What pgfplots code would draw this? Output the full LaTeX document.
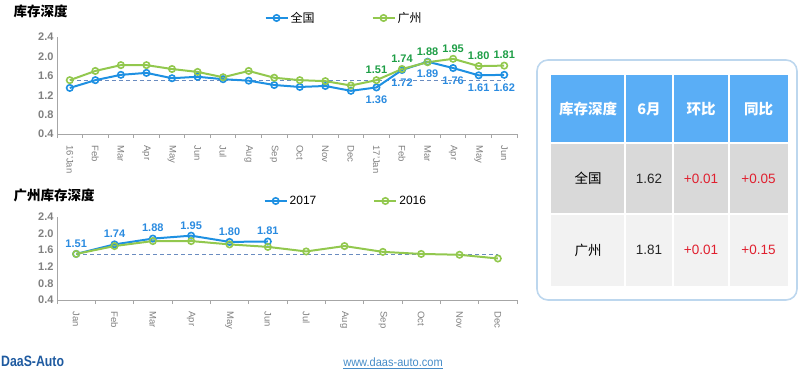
\documentclass[border=0pt]{standalone}
\usepackage{pgfplots}
\pgfplotsset{compat=1.18}
\usetikzlibrary{calc}
\usepackage{fontspec}
\setmainfont{Liberation Sans}
\newfontfamily\cjk{Noto Sans CJK SC}
\definecolor{cblue}{RGB}{30,144,226}
\definecolor{cgreen}{RGB}{146,200,78}
\definecolor{lblue}{RGB}{42,139,224}
\definecolor{lgreen}{RGB}{30,158,70}
\definecolor{dashc}{RGB}{106,140,192}
\definecolor{axgray}{RGB}{166,166,166}
\definecolor{tickgray}{RGB}{128,128,128}
\definecolor{hdrblue}{RGB}{90,174,246}
\definecolor{row1}{RGB}{217,217,217}
\definecolor{row2}{RGB}{242,242,242}
\definecolor{redv}{RGB}{224,32,47}
\definecolor{boxblue}{RGB}{189,215,238}
\definecolor{logoblue}{RGB}{30,90,160}
\definecolor{urlblue}{RGB}{70,140,200}

\pgfplotsset{
  mychart/.style={
    scale only axis,
    ymin=0.4, ymax=2.4,
    ytick={0.4,0.8,1.2,1.6,2.0,2.4},
    /pgf/number format/fixed, /pgf/number format/fixed zerofill, /pgf/number format/precision=1,
    /pgf/number format/assume math mode=true,
    yticklabel style={font=\bfseries\fontsize{11}{12}\selectfont, text=tickgray},
    xticklabel style={rotate=-90, anchor=west, font=\fontsize{9.5}{10}\selectfont, text=tickgray, xshift=8pt},
    major tick length=0pt, minor tick length=4pt, tick align=outside,
    axis lines*=left,
    axis line style={axgray, line width=0.8pt},
    minor tick style={axgray, line width=0.8pt},
    clip=false,
    legend columns=2,
    legend style={draw=none, fill=none, font=\fontsize{12}{14}\selectfont, cells={anchor=west},
      /tikz/every even column/.append style={column sep=55pt}},
    legend image code/.code={\draw[mark repeat=2,mark phase=2,##1] plot coordinates {(0pt,0pt) (11pt,0pt) (22pt,0pt)};},
  },
  sblue/.style={cblue, line width=2pt, mark=o, mark size=3.2pt, mark options={fill=white, line width=1.6pt}},
  sgreen/.style={cgreen, line width=2pt, mark=o, mark size=3.2pt, mark options={fill=white, line width=1.6pt}},
  dashl/.style={dashc, line width=1.5pt, dash pattern=on 4pt off 3pt, forget plot},
  labup/.style={draw=none, mark=none, forget plot, nodes near coords, point meta=explicit symbolic,
     nodes near coords style={font=\bfseries\fontsize{11}{12}\selectfont, text=#1, anchor=south, yshift=3pt}},
  labdown/.style={draw=none, mark=none, forget plot, nodes near coords, point meta=explicit symbolic,
     nodes near coords style={font=\bfseries\fontsize{11}{12}\selectfont, text=#1, anchor=north, yshift=-5pt}},
}

\begin{document}
\begin{tikzpicture}[x=1pt,y=1pt]
\useasboundingbox (0,0) rectangle (800,376);

% titles
\node[anchor=west, font=\cjk\bfseries\fontsize{13.5}{15}\selectfont] at (10,365) {库存深度};
\node[anchor=west, font=\cjk\bfseries\fontsize{13.5}{15}\selectfont] at (10,181) {广州库存深度};

% top chart
\begin{axis}[mychart,
  at={(57pt,242pt)}, anchor=south west, width=460pt, height=97pt,
  xmin=-0.5, xmax=17.5,
  xtick={0,...,17},
  xticklabels={16'Jan,Feb,Mar,Apr,May,Jun,Jul,Aug,Sep,Oct,Nov,Dec,17'Jan,Feb,Mar,Apr,May,Jun},
  minor xtick={-0.5,0.5,...,17.5},
  legend style={at={(axis description cs:0.624,1.196)}, anchor=center},
]
\addplot[dashl] coordinates {(0,1.5) (17,1.5)};
\addplot[sblue] coordinates {(0,1.35) (1,1.51) (2,1.62) (3,1.66) (4,1.55) (5,1.58) (6,1.53) (7,1.50) (8,1.41) (9,1.37) (10,1.39) (11,1.29) (12,1.36) (13,1.72) (14,1.89) (15,1.76) (16,1.61) (17,1.62)};
\addlegendentry{\cjk 全国}
\addplot[sgreen] coordinates {(0,1.51) (1,1.70) (2,1.82) (3,1.82) (4,1.74) (5,1.68) (6,1.57) (7,1.70) (8,1.56) (9,1.51) (10,1.49) (11,1.40) (12,1.51) (13,1.74) (14,1.88) (15,1.95) (16,1.80) (17,1.81)};
\addlegendentry{\cjk 广州}
\addplot[labup=lgreen] coordinates {(12,1.51)[1.51] (13,1.74)[1.74] (14,1.88)[1.88] (15,1.95)[1.95] (16,1.80)[1.80] (17,1.81)[1.81]};
\addplot[labdown=lblue] coordinates {(12,1.36)[1.36] (13,1.72)[1.72] (14,1.89)[1.89] (15,1.76)[1.76] (16,1.61)[1.61] (17,1.62)[1.62]};
\end{axis}

% bottom chart
\begin{axis}[mychart,
  at={(57pt,76pt)}, anchor=south west, width=460pt, height=83pt,
  xmin=-0.5, xmax=11.5,
  xtick={0,...,11},
  xticklabels={Jan,Feb,Mar,Apr,May,Jun,Jul,Aug,Sep,Oct,Nov,Dec},
  minor xtick={-0.5,0.5,...,11.5},
  legend style={at={(axis description cs:0.628,1.193)}, anchor=center},
]
\addplot[dashl] coordinates {(0,1.5) (11,1.5)};
\addplot[sblue] coordinates {(0,1.51) (1,1.74) (2,1.88) (3,1.95) (4,1.80) (5,1.81)};
\addlegendentry{2017}
\addplot[sgreen] coordinates {(0,1.51) (1,1.70) (2,1.82) (3,1.82) (4,1.74) (5,1.68) (6,1.57) (7,1.70) (8,1.56) (9,1.51) (10,1.49) (11,1.40)};
\addlegendentry{2016}
\addplot[labup=lblue] coordinates {(0,1.51)[1.51] (1,1.74)[1.74] (2,1.88)[1.88] (3,1.95)[1.95] (4,1.80)[1.80] (5,1.81)[1.81]};
\end{axis}

% table box
\draw[boxblue, line width=1.6pt, rounded corners=11pt] (537,316) rectangle (797,76);
\fill[hdrblue] (551,301) rectangle (788,233);
\fill[row1] (551,233) rectangle (788,162);
\fill[row2] (551,162) rectangle (788,90);
\foreach \xx in {625,673,729} \draw[white, line width=1.5pt] (\xx,301) -- (\xx,90);
\foreach \yy in {233,162} \draw[white, line width=1.5pt] (551,\yy) -- (788,\yy);
\begin{scope}[every node/.style={font=\cjk\bfseries\fontsize{14.5}{16}\selectfont, text=white}]
\node at (588,267) {库存深度};
\node at (649,267) {6月};
\node at (701,267) {环比};
\node at (758.5,267) {同比};
\end{scope}
\begin{scope}[every node/.style={font=\fontsize{13.5}{15}\selectfont}]
\node[font=\cjk\fontsize{13.5}{15}\selectfont] at (588,197.5) {全国};
\node[text=black!85] at (649,197.5) {1.62};
\node[text=redv] at (701,197.5) {+0.01};
\node[text=redv] at (758.5,197.5) {+0.05};
\node[font=\cjk\fontsize{13.5}{15}\selectfont] at (588,126) {广州};
\node[text=black!85] at (649,126) {1.81};
\node[text=redv] at (701,126) {+0.01};
\node[text=redv] at (758.5,126) {+0.15};
\end{scope}

% footer
\node[anchor=west, inner sep=0pt, text=logoblue, font=\bfseries\fontsize{15}{16}\selectfont] at (1,15) {\scalebox{0.82}[1]{DaaS-Auto}};
\node[inner sep=0pt, text=urlblue, font=\fontsize{12}{14}\selectfont] (url) at (393,14) {\scalebox{0.92}[1]{www.daas-auto.com}};
\draw[urlblue, line width=0.6pt] ($(url.south west)+(0,-1.5)$) -- ($(url.south east)+(0,-1.5)$);
\end{tikzpicture}
\end{document}
